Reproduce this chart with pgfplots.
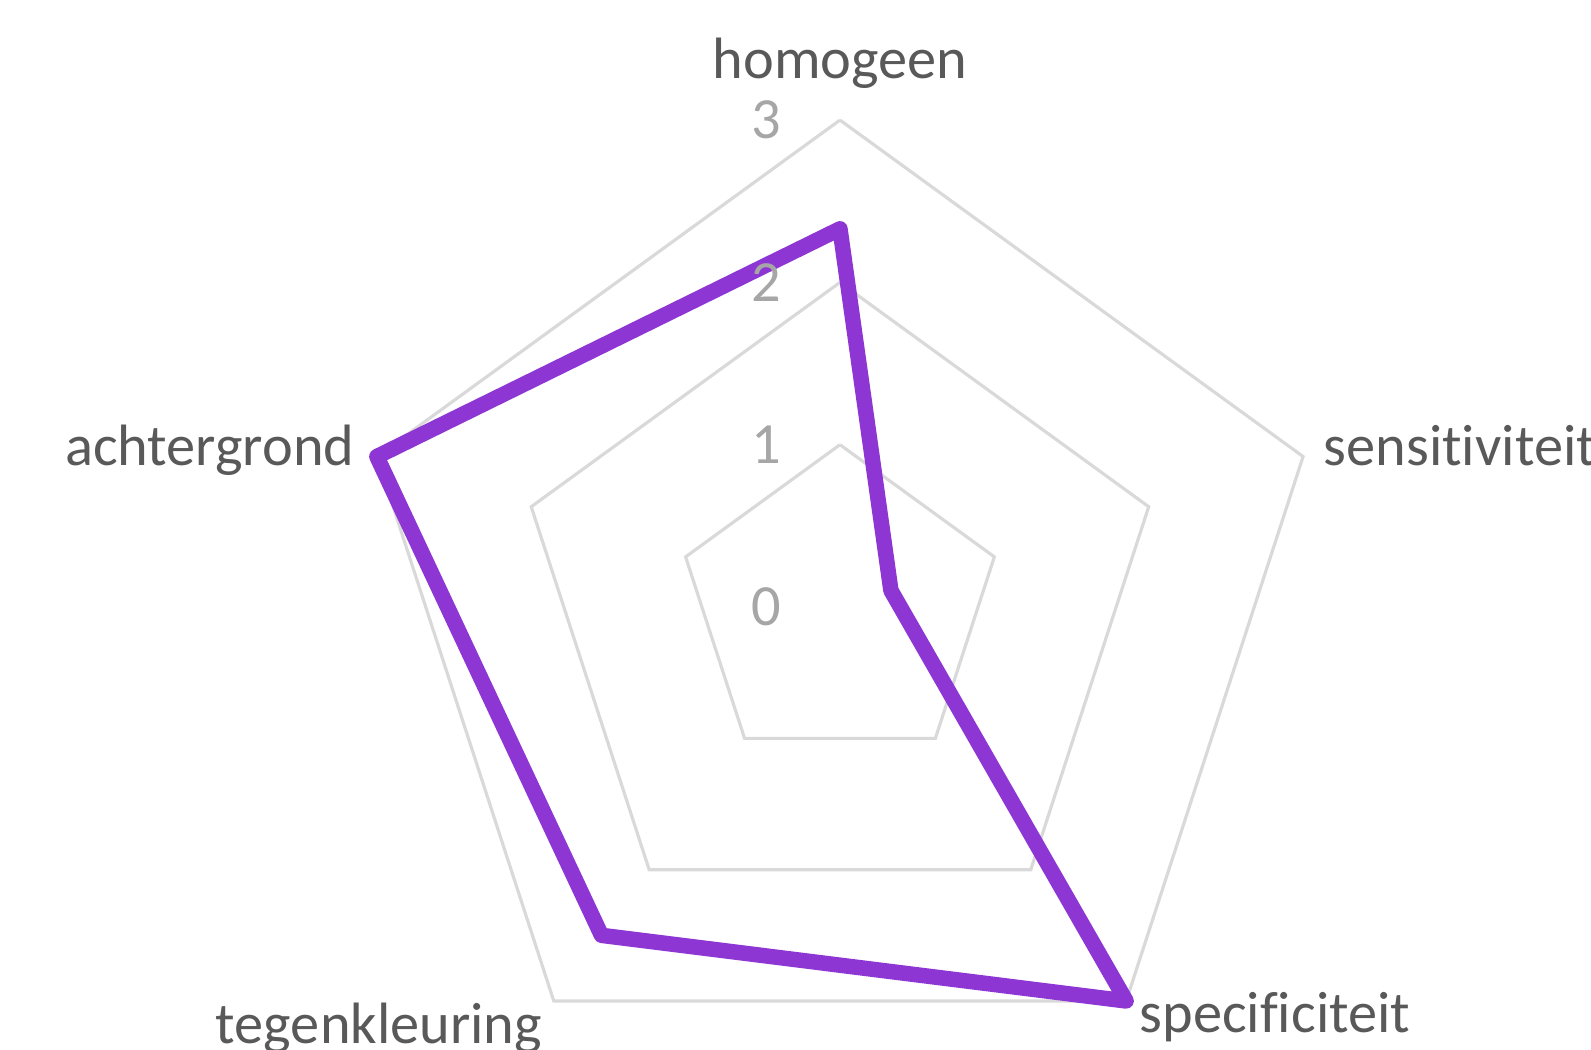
\documentclass[border=0pt]{standalone}
\usepackage{pgfplots}
\pgfplotsset{compat=1.18}
\usepackage{fontspec}
\setmainfont{Carlito}[Ligatures={NoCommon}]
\definecolor{gridc}{HTML}{D9D9D9}
\definecolor{labc}{HTML}{595959}
\definecolor{tickc}{HTML}{A6A6A6}
\definecolor{linec}{HTML}{8E36D3}
\begin{document}
\begin{tikzpicture}
\begin{axis}[x=16.23mm,y=16.23mm,hide axis,clip=false,
  xmin=-5.175,xmax=4.627,ymin=-2.723,ymax=3.740]
% pentagon grid (levels 1,2,3)
\addplot[gridc, line width=0.9pt, line join=miter, data cs=polar] coordinates {(90,1) (18,1) (-54,1) (-126,1) (162,1) (90,1)};
\addplot[gridc, line width=0.9pt, line join=miter, data cs=polar] coordinates {(90,2) (18,2) (-54,2) (-126,2) (162,2) (90,2)};
\addplot[gridc, line width=0.9pt, line join=miter, data cs=polar] coordinates {(90,3) (18,3) (-54,3) (-126,3) (162,3) (90,3)};
% data
\addplot[linec, line width=4.4pt, line join=round, line cap=round, data cs=polar] coordinates {
 (90,2.33) (18,0.33) (-54,3) (-126,2.5) (162,3) (90,2.33)};
% radial tick labels
\foreach \k in {0,1,2,3}{
  \edef\tmp{\noexpand\node[text=tickc, font=\noexpand\fontsize{16.6}{19}\noexpand\selectfont, anchor=east, inner sep=0pt] at (axis cs:-0.357,\k) {\k};}
  \tmp
}
% category labels
\node[anchor=base, text=labc, font=\fontsize{16.6}{19}\selectfont, inner sep=0pt] at (axis cs:0,3.259) {homogeen};
\node[anchor=base west, text=labc, font=\fontsize{16.6}{19}\selectfont, inner sep=0pt] at (axis cs:2.976,0.875) {sensitiviteit};
\node[anchor=base east, text=labc, font=\fontsize{16.6}{19}\selectfont, inner sep=0pt] at (axis cs:-2.988,0.875) {achtergrond};
\node[anchor=base, text=labc, font=\fontsize{16.6}{19}\selectfont, inner sep=0pt] at (axis cs:-2.840,-2.686) {tegenkleuring};
\node[anchor=base, text=labc, font=\fontsize{16.6}{19}\selectfont, inner sep=0pt] at (axis cs:2.680,-2.619) {specificiteit};
\coordinate (bl) at (axis cs:-5.175,-2.723);
\coordinate (tr) at (axis cs:4.627,3.740);
\end{axis}
\pgfresetboundingbox
\useasboundingbox (bl) rectangle (tr);
\end{tikzpicture}
\end{document}
